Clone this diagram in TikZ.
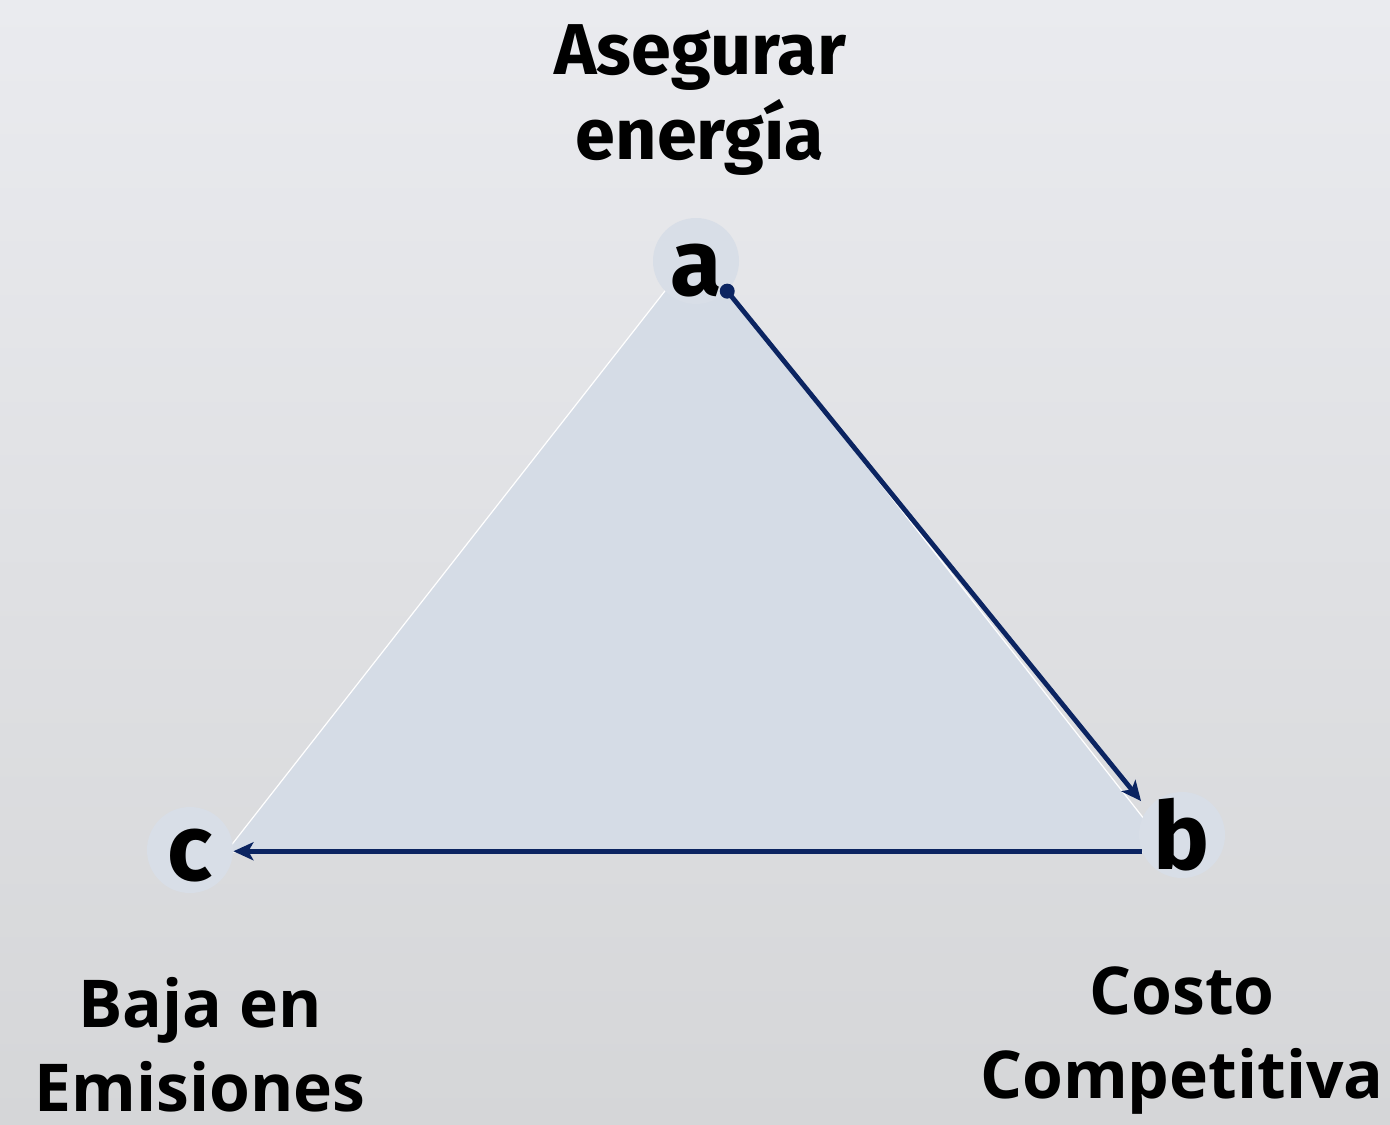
\documentclass[tikz,border=0pt]{standalone}
\usepackage{fontspec}
\newfontfamily\titlefont{Fira Sans}
\newfontfamily\namefont{Open Sans}
\usepackage{tikz}
\usetikzlibrary{arrows.meta}
\usetikzlibrary{calc}
\usetikzlibrary{positioning}
\definecolor{navy}{HTML}{0B2461}
\definecolor{trifill}{HTML}{D5DCE6}
\definecolor{ringfill}{HTML}{D8DEE7}
\definecolor{bgtop}{HTML}{EAEBEF}
\definecolor{bgbot}{HTML}{D5D6D8}

\begin{document}
\begin{tikzpicture}[
  x=0.5pt, y=-0.5pt,
  > = {Stealth[length=10pt,width=9pt,inset=2.5pt]},
  vertex/.style = {circle,fill=ringfill,minimum size=43pt,inner sep=0pt},
  letter/.style = {font=\titlefont\bfseries\fontsize{47}{47}\selectfont},
  title/.style = {align=center,inner sep=0pt,font=\titlefont\bfseries\fontsize{36}{42.5}\selectfont},
  caption/.style = {align=center,inner sep=0pt,font=\namefont\bfseries\fontsize{33}{42}\selectfont},
  dot/.style = {circle,fill=navy,inner sep=0pt,minimum size=7.5pt},
  flow/.style = {draw=navy,line width=2.4pt,->}
  ]
	\useasboundingbox (0,0) rectangle (1390,1124);
	\shade[top color=bgtop,bottom color=bgbot] (0,0) rectangle (1390,1124);

	\coordinate (@top) at (697,250);
	\coordinate (@right) at (1170,852);
	\coordinate (@left) at (226,852);
	\fill[trifill,draw=white,line width=0.6pt] (@top) -- (@right) -- (@left) -- cycle;

	\node[vertex,label={[letter,yshift=-5pt]center:a}] (a) at (696,261) {};
	\node[vertex,label={[letter]center:b}] (b) at (1182,835) {};
	\node[vertex,label={[letter,yshift=-3pt]center:c}] (c) at (190,850) {};

	\node[title,above=21pt of a,xshift=2pt] (asegurar) {Asegurar\\energía};
	\node[caption,below=42pt of c,xshift=5pt] (baja) {Baja en\\Emisiones};
	\node[caption,below=44pt of b] (costo) {Costo\\Competitiva};

	\node[dot] (adot) at (a.-44) {};
	\draw[flow,shorten >=5pt] (adot.center) -- (b.143);
	\draw[flow] (b.-158) -- (b.-158 -| c.east);

\end{tikzpicture}
\end{document}
